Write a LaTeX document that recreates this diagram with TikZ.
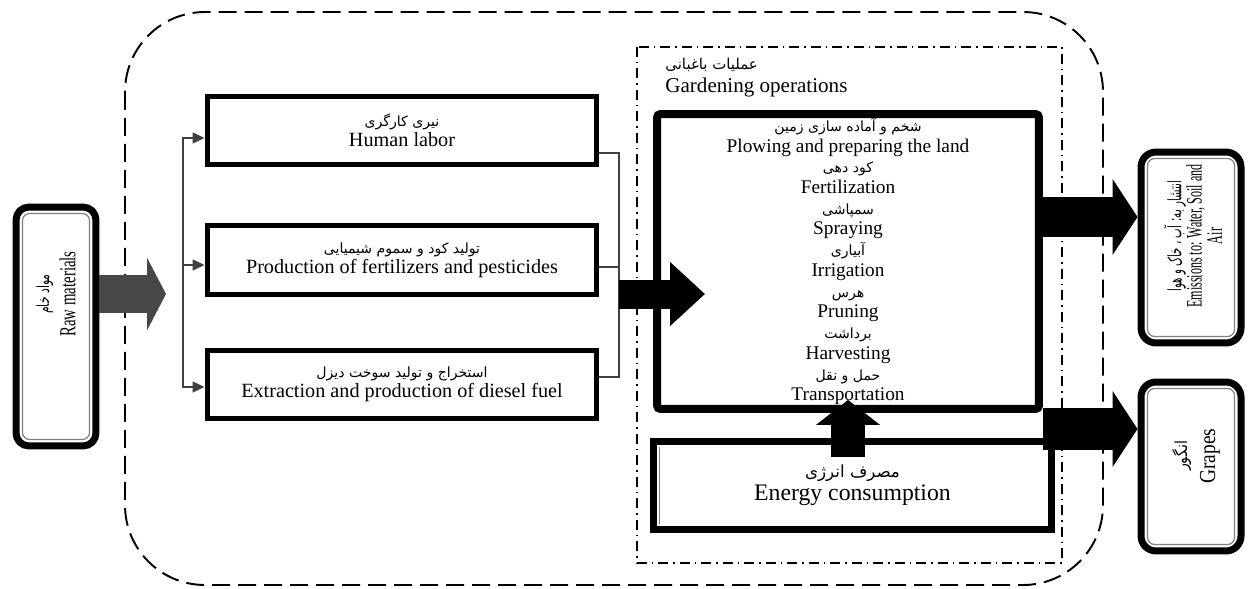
\documentclass[tikz,border=0pt]{standalone}
\usepackage{fontspec}
\setmainfont{Liberation Serif}
\newfontfamily\farsifont[Script=Arabic]{DejaVu Sans}
\TeXXeTstate=1
\newcommand{\fa}[2][8]{{\farsifont\fontsize{#1}{9}\selectfont\beginR #2\endR}}
\usetikzlibrary{arrows.meta, positioning}

\tikzset{
  inbox/.style={draw, line width=0.1cm, minimum width=7.8cm, minimum height=1.38cm,
    align=center, inner sep=0pt, font=\fontsize{11.5}{11.5}\selectfont},
  dblbox/.style={draw, line width=0.14cm, rounded corners=0.26cm, inner sep=0pt},
  innerline/.style={draw=gray, line width=0.7pt, rounded corners=0.14cm},
  sideline/.style={draw=black!75, line width=0.8pt},
  fatarrow/.style n args={3}{line width=#1, -{Triangle[length=#2, width=#3]}},
  sidelabel/.style={rotate=90, align=center, inner sep=0pt}
}

\begin{document}
\begin{tikzpicture}[x=0.02cm, y=-0.02cm]
    \useasboundingbox (0,0) rectangle (1250,588);

    % System boundary
    \draw[line width=1.1pt, dash pattern=on 0.36cm off 0.16cm, rounded corners=1.6cm]
        (125,12) rectangle (1103,585);

    % Gardening operations frame
    \draw[line width=0.8pt, dash pattern=on 0.2cm off 0.1cm on 0.03cm off 0.1cm]
        (637,47) rectangle (1062,563);
    \node[anchor=west, align=left, inner sep=0pt, font=\fontsize{12}{13}\selectfont]
        (gardlbl) at (665,78) {\fa[8.5]{عملیات باغبانی}\\Gardening operations};

    % Raw materials
    \node[dblbox, minimum width=1.6cm, minimum height=4.78cm] (raw) at (56,326.5) {};
    \node[sidelabel, xscale=0.65, font=\fontsize{13}{15}\selectfont]
        (rawlbl) at (56,294) {\fa[9.5]{مواد خام}\\Raw materials};

    % Inputs
    \node[inbox] (labor) at (402,130.5) {\fa{نیری کارگری}\\Human labor};
    \node[inbox] (fert) at (402,260) {\fa{تولید کود و سموم شیمیایی}\\Production of fertilizers and pesticides};
    \node[inbox] (diesel) at (402,384.5) {\fa{استخراج و تولید سوخت دیزل}\\Extraction and production of diesel fuel};

    % Bracket into the inputs
    \coordinate (split) at (183,294);
    \coordinate (rawtip) at (166,294);
    \draw[fatarrow={0.76cm}{0.38cm}{1.44cm}, draw=black!72] (raw.east |- rawtip) -- (rawtip);
    \draw[sideline, -{Triangle[length=0.24cm, width=0.22cm]}] (split) |- ([yshift=-0.15cm]labor.west);
    \draw[sideline, -{Triangle[length=0.24cm, width=0.22cm]}] (split) |- ([yshift=-0.1cm]fert.west);
    \draw[sideline, -{Triangle[length=0.24cm, width=0.22cm]}] (split) |- ([yshift=-0.05cm]diesel.west);

    % Bracket out of the inputs
    \coordinate (join) at (619,294);
    \draw[sideline] ([yshift=-0.45cm]labor.east) -| (join);
    \draw[sideline] ([yshift=-0.14cm]fert.east) -| (join);
    \draw[sideline] ([yshift=0.15cm]diesel.east) -| (join);

    % Operations
    \node[draw, line width=0.16cm, rounded corners=2pt, minimum width=7.64cm, minimum height=5.9cm,
        align=center, inner sep=0pt, font=\fontsize{11}{11.8}\selectfont] (ops) at (848,261.5)
        {\fa{شخم و آماده سازی زمین}\\Plowing and preparing the land\\
         \fa{کود دهی}\\Fertilization\\\fa{سمپاشی}\\Spraying\\\fa{آبیاری}\\Irrigation\\
         \fa{هرس}\\Pruning\\\fa{برداشت}\\Harvesting\\\fa{حمل و نقل}\\Transportation};
    \coordinate (opsin) at (705,294);
    \draw[fatarrow={0.58cm}{0.7cm}{1.24cm}] (join) -- (opsin);

    % Energy
    \node[draw, line width=0.14cm, minimum width=7.96cm, minimum height=1.76cm, align=center,
        inner sep=0pt, font=\fontsize{13.5}{13}\selectfont] (energy) at (852.5,485.5)
        {\fa[9.5]{مصرف انرژی}\\Energy consumption};
    \draw[draw=gray, line width=0.4pt, double=white, double distance=0.6pt]
        ([shift={(0.2cm,0.2cm)}]energy.south west) rectangle ([shift={(-0.2cm,-0.2cm)}]energy.north east);
    \coordinate (enup) at (848,457);
    \coordinate (opsup) at (848,400);
    \draw[fatarrow={0.68cm}{0.5cm}{1.26cm}] (enup) -- (opsup);

    % Outputs
    \node[dblbox, rounded corners=0.3cm, minimum width=2cm, minimum height=3.82cm] (emis) at (1191,247.5) {};
    \node[dblbox, rounded corners=0.3cm, minimum width=2cm, minimum height=3.38cm] (grape) at (1191,466.5) {};
    \foreach \b in {raw,emis,grape}
        \draw[innerline] ([shift={(0.2cm,0.2cm)}]\b.south west) rectangle ([shift={(-0.2cm,-0.2cm)}]\b.north east);
    \node[sidelabel, xscale=0.55, font=\fontsize{12.5}{11.5}\selectfont] (emislbl) at (1193,236)
        {\fa[10.5]{انتشار به: آب ، خاک و هوا}\\Emissions to: Water, Soil and\\Air};
    \node[sidelabel, xscale=0.85, font=\fontsize{13}{16}\selectfont] (grapelbl) at (1196,456)
        {\fa[9.5]{انگور}\\Grapes};

    \coordinate (emisrow) at (0,217);
    \coordinate (graperow) at (0,429);
    \draw[fatarrow={0.8cm}{0.5cm}{1.5cm}] (ops.east |- emisrow) -- (emis.west |- emisrow);
    \draw[fatarrow={0.84cm}{0.5cm}{1.5cm}] (ops.east |- graperow) -- (grape.west |- graperow);
\end{tikzpicture}
\end{document}
